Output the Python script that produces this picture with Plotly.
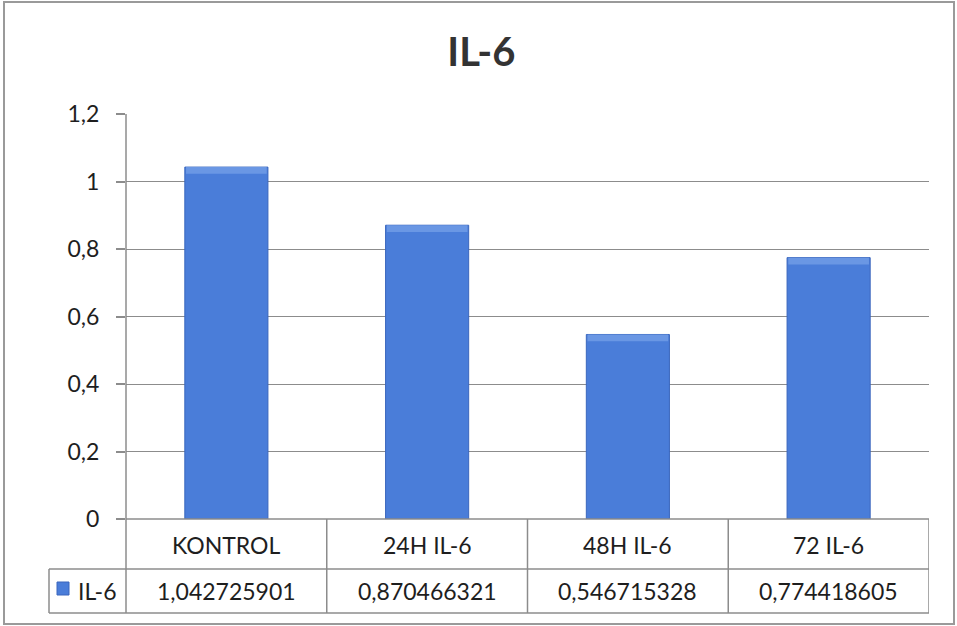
import plotly.graph_objects as go

# Data
categories = ["KONTROL", "24H IL-6", "48H IL-6", "72 IL-6"]
il6_values = [1.042725901, 0.870466321, 0.546715328, 0.774418605]
series_name = "IL-6"
y_ticks = [0, 0.2, 0.4, 0.6, 0.8, 1.0, 1.2]

# Page / plot-area geometry in pixels
W, H = 957, 626
L, R, T, B = 126, 929, 114, 519
ROW1_BOTTOM, ROW2_BOTTOM = 569, 613
LEGEND_LEFT = 49

FONT = "Lato, 'Open Sans', sans-serif"
TEXT = "#1e1e1e"
GRID = "#8c8c8c"
BAR = "#4a7dd9"
BAR_TOP = "#6a97e4"
BAR_EDGE = "#3a66bd"
BAR_WIDTH = 0.414
BEVEL = 0.02  # depth of the lighter top bevel, in axis units


def px_x(p):
    return (p - L) / (R - L)


def px_y(p):
    return (B - p) / (B - T)


fig = go.Figure()
fig.add_trace(go.Bar(
    x=categories,
    y=il6_values,
    name=series_name,
    marker=dict(color=BAR, line=dict(color=BAR_EDGE, width=1)),
    width=BAR_WIDTH,
    showlegend=False,
))
# Lighter bevel strip along the top of each bar
fig.add_trace(go.Bar(
    x=categories,
    y=[BEVEL] * len(il6_values),
    base=[v - BEVEL for v in il6_values],
    marker=dict(color=BAR_TOP, line=dict(width=0)),
    width=BAR_WIDTH - 0.012,
    showlegend=False,
    hoverinfo="skip",
))

shapes = []
line_style = dict(color=GRID, width=1.5)

# Outer chart frame
shapes.append(dict(type="rect", xref="paper", yref="paper",
                   x0=px_x(4), x1=px_x(954), y0=px_y(2), y1=px_y(624),
                   line=dict(color="#9a9a9a", width=2)))

# Data table: horizontal rules
shapes.append(dict(type="line", xref="paper", yref="paper",
                   x0=0, x1=1, y0=0, y1=0, line=line_style))
for yy in (ROW1_BOTTOM, ROW2_BOTTOM):
    shapes.append(dict(type="line", xref="paper", yref="paper",
                       x0=px_x(LEGEND_LEFT), x1=1, y0=px_y(yy), y1=px_y(yy),
                       line=line_style))
# Legend-cell left border
shapes.append(dict(type="line", xref="paper", yref="paper",
                   x0=px_x(LEGEND_LEFT), x1=px_x(LEGEND_LEFT),
                   y0=px_y(ROW1_BOTTOM), y1=px_y(ROW2_BOTTOM), line=line_style))
# Value axis line, continued through the table
shapes.append(dict(type="line", xref="paper", yref="paper",
                   x0=0, x1=0, y0=1, y1=px_y(ROW2_BOTTOM), line=line_style))
# Column separators between categories and right border
for i in range(len(categories)):
    shapes.append(dict(type="line", xref="x", yref="paper",
                       x0=i + 0.5, x1=i + 0.5, y0=0, y1=px_y(ROW2_BOTTOM),
                       line=line_style))
# Legend key
shapes.append(dict(type="rect", xref="paper", yref="paper",
                   x0=px_x(57), x1=px_x(69), y0=px_y(582), y1=px_y(595),
                   fillcolor=BAR, line=dict(color=BAR_EDGE, width=1)))

annotations = []
cat_y = px_y((B + ROW1_BOTTOM) / 2 + 1)
val_y = px_y((ROW1_BOTTOM + ROW2_BOTTOM) / 2)
cell_font = dict(family=FONT, size=23, color=TEXT)
for i, (c, v) in enumerate(zip(categories, il6_values)):
    annotations.append(dict(x=i, y=cat_y, xref="x", yref="paper", text=c,
                            showarrow=False, xanchor="center", yanchor="middle",
                            font=cell_font))
    annotations.append(dict(x=i, y=val_y, xref="x", yref="paper",
                            text=f"{v:.9f}".replace(".", ","),
                            showarrow=False, xanchor="center", yanchor="middle",
                            font=cell_font))
annotations.append(dict(x=px_x(76), y=val_y, xref="paper", yref="paper",
                        text=series_name, showarrow=False,
                        xanchor="left", yanchor="middle", font=cell_font))

fig.update_layout(
    width=W, height=H,
    margin=dict(l=L, r=W - R, t=T, b=H - B, pad=0),
    paper_bgcolor="white", plot_bgcolor="white",
    separators=", ",
    title=dict(text="<b>IL-6</b>", x=0.503, xanchor="center",
               y=1 - 52 / H, yanchor="middle",
               font=dict(family=FONT, size=40, color="#333333")),
    barmode="overlay",
    shapes=shapes,
    annotations=annotations,
    xaxis=dict(showticklabels=False, showgrid=False, showline=False,
               zeroline=False, ticks="", range=[-0.5, 3.5]),
    yaxis=dict(range=[0, 1.2], tickvals=y_ticks, showgrid=True,
               gridcolor=GRID, gridwidth=1.2, zeroline=False,
               showline=False, ticks="outside", ticklen=9,
               tickcolor=GRID, tickwidth=1.5, ticklabelstandoff=12,
               tickfont=dict(family=FONT, size=23, color=TEXT)),
)

fig.write_html("out.html")
